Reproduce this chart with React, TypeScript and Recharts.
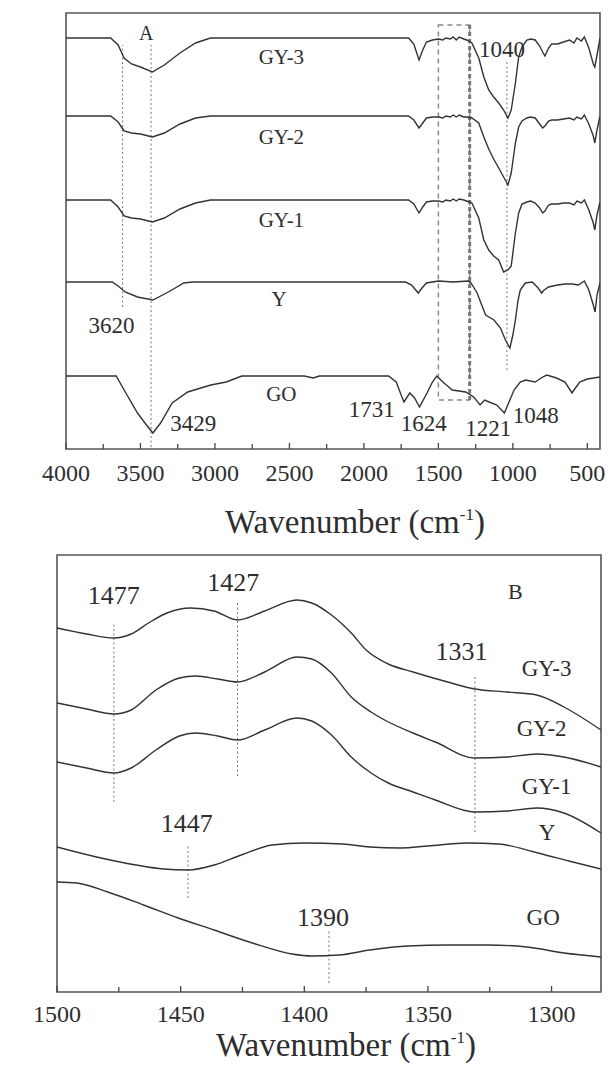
import React from 'react';
import { LineChart, Line, XAxis, YAxis, ReferenceArea, ReferenceLine, ReferenceDot } from 'recharts';

const FONT = "'Liberation Serif', 'DejaVu Serif', 'Noto Serif', serif";
const INK = '#2e2e2e';

// ---------------- Panel A (full spectrum) ----------------
const A_DOMAIN = [415, 4000];
const A_YMAX = 436;
const A_TICKS = [4000, 3750, 3500, 3250, 3000, 2750, 2500, 2250, 2000, 1750, 1500, 1250, 1000, 750, 500];

// shared wavenumber grid for GY-3 / GY-2 / GY-1
const A_GY_WN = [4000, 3700, 3650, 3610, 3560, 3500, 3420, 3340, 3235, 3130, 3030, 2000, 1700, 1665, 1630, 1605, 1580, 1540, 1500, 1470, 1450, 1420, 1400, 1380, 1360, 1330, 1310, 1275, 1229, 1195, 1162, 1129, 1095, 1062, 1033, 1011, 983, 961, 939, 906, 880, 850, 820, 800, 785, 760, 740, 700, 660, 620, 590, 570, 540, 520, 490, 460, 450, 435, 415];
const A_GY3_T = [411, 411, 404, 391, 385, 382, 377, 384, 396, 406, 411, 411, 411, 405, 389, 399, 407, 409, 410, 409, 411, 410, 412, 409, 412, 410, 409, 406, 391, 372, 359, 352, 346, 339, 331, 339, 366, 392, 402, 409, 410, 409, 403, 397, 393, 401, 405, 405, 407, 409, 406, 411, 408, 412, 401, 385, 382, 394, 411];
const A_GY2_T = [333, 333, 327, 318, 316, 315, 312, 316, 325, 331, 333, 333, 333, 329, 321, 326, 331, 332, 332, 331, 333, 332, 334, 332, 334, 332, 332, 331, 326, 312, 300, 290, 281, 272, 264, 276, 306, 322, 328, 331, 332, 331, 325, 321, 323, 328, 329, 329, 330, 331, 329, 332, 330, 334, 325, 313, 306, 319, 333];
const A_GY1_T = [249, 249, 242, 233, 231, 230, 227, 231, 240, 246, 249, 249, 249, 245, 236, 242, 247, 248, 248, 247, 249, 248, 250, 248, 250, 249, 248, 246, 231, 209, 199, 193, 189, 177, 179, 183, 216, 236, 245, 247, 248, 246, 241, 236, 238, 244, 245, 245, 246, 246, 244, 248, 246, 249, 239, 226, 219, 234, 247];

const A_Y_WN = [4000, 3690, 3650, 3603, 3520, 3417, 3313, 3209, 3150, 2000, 1720, 1680, 1635, 1610, 1580, 1500, 1400, 1300, 1285, 1240, 1183, 1127, 1083, 1050, 1020, 1000, 983, 965, 950, 916, 870, 830, 807, 790, 760, 700, 650, 600, 560, 520, 490, 460, 448, 435, 415];
const A_Y_T = [167, 167, 163, 157, 152, 149, 157, 166, 167, 167, 167, 164, 156, 161, 166, 168, 167, 168, 167, 156, 134, 129, 121, 109, 101, 114, 129, 149, 159, 166, 167, 161, 156, 159, 162, 164, 165, 165, 164, 168, 159, 144, 137, 154, 166];

const A_GO_WN = [4000, 3663, 3598, 3520, 3470, 3417, 3365, 3287, 3183, 3028, 2924, 2872, 2820, 2400, 2340, 2300, 1835, 1783, 1750, 1731, 1692, 1660, 1627, 1576, 1540, 1511, 1470, 1446, 1407, 1317, 1263, 1220, 1190, 1159, 1108, 1057, 1020, 992, 950, 914, 850, 800, 772, 707, 650, 603, 580, 551, 500, 415];
const A_GO_T = [73, 73, 56, 36, 26, 16, 26, 46, 57, 64, 67, 70, 73, 73, 71, 73, 73, 67, 54, 47, 56, 51, 42, 56, 67, 73, 67, 64, 59, 57, 52, 44, 49, 47, 44, 36, 49, 59, 67, 69, 67, 72, 74, 71, 67, 56, 61, 67, 70, 72];

// annotations (text, wavenumber, transmittance position)
const A_NOTE_TEXT = ['A', 'GY-3', 'GY-2', 'GY-1', 'Y', 'GO', '3620', '3429', '1731', '1624', '1221', '1048', '1040'];
const A_NOTE_WN = [3461, 2554, 2554, 2554, 2570, 2554, 3694, 3145, 1948, 1598, 1165, 847, 1073];
const A_NOTE_T = [416, 392, 312, 229, 150, 55, 124, 26, 40, 26, 21, 34, 400];

// dotted marker lines: wavenumber, from, to
const A_MARK_WN = [3620, 3429, 1040];
const A_MARK_FROM = [142, 2, 79];
const A_MARK_TO = [404, 404, 389];

// dashed zoom window (1500 – 1290 cm-1)
const A_BOX_WN = [1500, 1290];
const A_BOX_T = [49, 424];

// ---------------- Panel B (1500 – 1280 cm-1) ----------------
const B_DOMAIN = [1280, 1500];
const B_YMAX = 437;
const B_TICKS = [1500, 1475, 1450, 1425, 1400, 1375, 1350, 1325, 1300];

const B_GY3_WN = [1500, 1488, 1477, 1470, 1463, 1455.5, 1446, 1436.5, 1427, 1416, 1403, 1397, 1389, 1381, 1375, 1366, 1356, 1342, 1331, 1318, 1306, 1295, 1280];
const B_GY3_T = [364, 358, 354, 358, 369, 379, 384, 381, 372, 381, 392, 389, 377, 359, 342, 328, 320, 310, 303, 300, 297, 285, 262];

const B_GY_WN = [1500, 1488, 1477, 1470, 1460, 1450.5, 1444, 1435, 1427, 1416, 1403, 1397, 1389, 1381, 1373, 1366, 1356, 1347, 1331, 1318, 1306, 1295, 1280];
const B_GY2_T = [289, 283, 278, 282, 302, 314, 316, 313, 310, 320, 335, 333, 319, 295, 280, 270, 259, 250, 234, 235, 238, 235, 225];
const B_GY1_T = [230, 224, 219, 224, 242, 256, 259, 256, 252, 262, 274, 271, 257, 235, 219, 209, 200, 192, 180, 181, 184, 179, 159];

const B_Y_WN = [1500, 1484, 1468, 1457, 1447, 1436.5, 1425.5, 1413, 1400, 1384.5, 1373.5, 1361, 1350, 1334, 1321.5, 1305.5, 1293, 1280];
const B_Y_T = [145, 135, 127, 123, 122, 127, 137, 147, 149, 148, 145, 144, 146, 149, 148, 139, 131, 123];

const B_GO_WN = [1500, 1492, 1479.5, 1465, 1451, 1436.5, 1421, 1405, 1397, 1386, 1373.5, 1358, 1342, 1326, 1310, 1295, 1280];
const B_GO_T = [110, 109, 100, 87, 74, 62, 49, 38, 36, 37, 42, 46, 47, 47, 45, 39, 35];

const B_NOTE_TEXT = ['1477', '1427', 'B', '1331', 'GY-3', 'GY-2', 'GY-1', 'Y', '1447', 'GO', '1390'];
const B_NOTE_WN = [1477, 1428.7, 1314.6, 1336.4, 1302, 1304, 1302, 1301.8, 1447.5, 1303.4, 1392.4];
const B_NOTE_T = [397, 410, 401, 341, 324, 264, 206, 160, 169, 75, 75];

const B_MARK_WN = [1477, 1427, 1331, 1447, 1390];
const B_MARK_FROM = [190, 216, 160, 94, 9];
const B_MARK_TO = [370, 390, 317, 147, 62];

// ---------------- styling ----------------
const A_NOTE_SIZE: Record<string, number> = { A: 20, 'GY-3': 21, 'GY-2': 21, 'GY-1': 21, Y: 21, GO: 21 };
const A_NUM_SIZE = 23;
const B_NOTE_SIZE: Record<string, number> = { B: 22, 'GY-3': 23, 'GY-2': 23, 'GY-1': 23, Y: 23, GO: 23 };
const B_NUM_SIZE = 26;
const TITLE_SIZE = 33;

const txtStyle = (size: number): React.CSSProperties => ({ fontFamily: FONT, fontSize: size, fill: INK });

const toPts = (wn: number[], t: number[]) => wn.map((w, i) => ({ wn: w, t: t[i] }));

const noteShape = (text: string, size: number) => (p: any) => (
  <text x={p.cx} y={p.cy} textAnchor="middle" dominantBaseline="central" style={txtStyle(size)}>
    {text}
  </text>
);

const makeTick = (labelEvery: number, fontSize: number, labelDy: number) => (props: any) => {
  const { x, y, payload } = props;
  const major = payload.value % labelEvery === 0;
  return (
    <g>
      <line x1={x} y1={y} x2={x} y2={y - (major ? 6 : 5)} stroke="#444" strokeWidth={1.3} />
      {major && (
        <text x={x} y={y + labelDy} textAnchor="middle" dominantBaseline="central" style={txtStyle(fontSize)}>
          {payload.value}
        </text>
      )}
    </g>
  );
};

const xTitle = (dx: number, dy: number) => (props: any) => {
  const vb = props.viewBox || {};
  const cx = vb.x + vb.width / 2 + dx;
  const cy = vb.y + dy;
  return (
    <text x={cx} y={cy} textAnchor="middle" style={txtStyle(TITLE_SIZE)}>
      Wavenumber (cm<tspan dy={-13} style={{ fontSize: 17 }}>-1</tspan>
      <tspan dy={13}>)</tspan>
    </text>
  );
};

const yTitle = (bx: number, dy: number) => (props: any) => {
  const vb = props.viewBox || {};
  const cy = vb.y + vb.height / 2 + dy;
  return (
    <text x={bx} y={cy} transform={`rotate(-90 ${bx} ${cy})`} textAnchor="middle" style={txtStyle(TITLE_SIZE)}>
      Transmittance (%)
    </text>
  );
};

const lineProps = { dataKey: 't', stroke: '#333', strokeWidth: 1.4, dot: false, isAnimationActive: false, activeDot: false } as const;
const markProps = { stroke: '#777', strokeWidth: 1, strokeDasharray: '2 2.5' };

function PanelA() {
  return (
    <LineChart width={610} height={540} margin={{ top: 13, right: 10, left: 66, bottom: 0 }}>
      <XAxis
        dataKey="wn"
        type="number"
        domain={A_DOMAIN}
        reversed
        ticks={A_TICKS}
        interval={0}
        allowDataOverflow
        height={91}
        axisLine={false}
        tickLine={false}
        tickSize={0}
        tickMargin={0}
        tick={makeTick(500, 24, 24)}
        label={xTitle(22, 84)}
      />
      <YAxis type="number" domain={[0, A_YMAX]} width={0} tick={false} axisLine={false} tickLine={false} allowDataOverflow label={yTitle(37, -6)} />
      <ReferenceArea x1={A_DOMAIN[0]} x2={A_DOMAIN[1]} y1={0} y2={A_YMAX} fill="none" fillOpacity={0} stroke="#555" strokeWidth={1.6} ifOverflow="visible" />
      <ReferenceArea x1={A_BOX_WN[0]} x2={A_BOX_WN[1]} y1={A_BOX_T[0]} y2={A_BOX_T[1]} fill="none" fillOpacity={0} stroke="#8a8a8a" strokeWidth={1.5} strokeDasharray="5 4" />
      <ReferenceLine segment={[{ x: A_BOX_WN[1], y: A_BOX_T[0] }, { x: A_BOX_WN[1], y: A_BOX_T[1] }]} stroke="#777" strokeWidth={3} strokeDasharray="4 3" />
      {A_MARK_WN.map((w, i) => (
        <ReferenceLine key={`am${i}`} segment={[{ x: w, y: A_MARK_FROM[i] }, { x: w, y: A_MARK_TO[i] }]} {...markProps} />
      ))}
      <Line data={toPts(A_GY_WN, A_GY3_T)} {...lineProps} type="linear" />
      <Line data={toPts(A_GY_WN, A_GY2_T)} {...lineProps} type="linear" />
      <Line data={toPts(A_GY_WN, A_GY1_T)} {...lineProps} type="linear" />
      <Line data={toPts(A_Y_WN, A_Y_T)} {...lineProps} type="linear" />
      <Line data={toPts(A_GO_WN, A_GO_T)} {...lineProps} type="linear" />
      {A_NOTE_TEXT.map((s, i) => (
        <ReferenceDot key={`an${i}`} x={A_NOTE_WN[i]} y={A_NOTE_T[i]} r={1} ifOverflow="visible" shape={noteShape(s, A_NOTE_SIZE[s] ?? A_NUM_SIZE)} />
      ))}
    </LineChart>
  );
}

function PanelB() {
  return (
    <LineChart width={610} height={535} margin={{ top: 15, right: 9, left: 57, bottom: 0 }}>
      <XAxis
        dataKey="wn"
        type="number"
        domain={B_DOMAIN}
        reversed
        ticks={B_TICKS}
        interval={0}
        allowDataOverflow
        height={83}
        axisLine={false}
        tickLine={false}
        tickSize={0}
        tickMargin={0}
        tick={makeTick(50, 24, 22)}
        label={xTitle(17, 64)}
      />
      <YAxis type="number" domain={[0, B_YMAX]} width={0} tick={false} axisLine={false} tickLine={false} allowDataOverflow label={yTitle(36, -7)} />
      <ReferenceArea x1={B_DOMAIN[0]} x2={B_DOMAIN[1]} y1={0} y2={B_YMAX} fill="none" fillOpacity={0} stroke="#555" strokeWidth={1.6} ifOverflow="visible" />
      {B_MARK_WN.map((w, i) => (
        <ReferenceLine key={`bm${i}`} segment={[{ x: w, y: B_MARK_FROM[i] }, { x: w, y: B_MARK_TO[i] }]} {...markProps} />
      ))}
      <Line data={toPts(B_GY3_WN, B_GY3_T)} {...lineProps} type="monotone" />
      <Line data={toPts(B_GY_WN, B_GY2_T)} {...lineProps} type="monotone" />
      <Line data={toPts(B_GY_WN, B_GY1_T)} {...lineProps} type="monotone" />
      <Line data={toPts(B_Y_WN, B_Y_T)} {...lineProps} type="monotone" />
      <Line data={toPts(B_GO_WN, B_GO_T)} {...lineProps} type="monotone" />
      {B_NOTE_TEXT.map((s, i) => (
        <ReferenceDot key={`bn${i}`} x={B_NOTE_WN[i]} y={B_NOTE_T[i]} r={1} ifOverflow="visible" shape={noteShape(s, B_NOTE_SIZE[s] ?? B_NUM_SIZE)} />
      ))}
    </LineChart>
  );
}

export default function App() {
  return (
    <div style={{ position: 'absolute', left: 0, top: 0, width: 610, height: 1075, background: '#fff' }}>
      <PanelA />
      <PanelB />
    </div>
  );
}
